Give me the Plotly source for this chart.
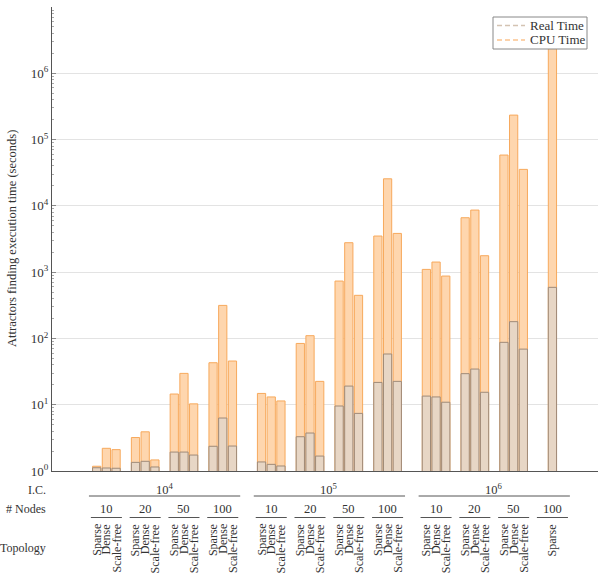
import plotly.graph_objects as go

# ---- data ----
ic_labels = ["10<sup>4</sup>", "10<sup>5</sup>", "10<sup>6</sup>"]
node_labels = ["10", "20", "50", "100"]
topologies = ["Sparse", "Dense", "Scale-free"]
y_tick_vals = [1, 10, 100, 1e3, 1e4, 1e5, 1e6, 1e7]
y_tick_text = ["10<sup>0</sup>", "10<sup>1</sup>", "10<sup>2</sup>", "10<sup>3</sup>",
               "10<sup>4</sup>", "10<sup>5</sup>", "10<sup>6</sup>", "10<sup>7</sup>"]
series_names = ["Real Time", "CPU Time"]

# groups: (ic index, node index, list of topologies)
groups = [
    (0, 0, ["Sparse", "Dense", "Scale-free"]),
    (0, 1, ["Sparse", "Dense", "Scale-free"]),
    (0, 2, ["Sparse", "Dense", "Scale-free"]),
    (0, 3, ["Sparse", "Dense", "Scale-free"]),
    (1, 0, ["Sparse", "Dense", "Scale-free"]),
    (1, 1, ["Sparse", "Dense", "Scale-free"]),
    (1, 2, ["Sparse", "Dense", "Scale-free"]),
    (1, 3, ["Sparse", "Dense", "Scale-free"]),
    (2, 0, ["Sparse", "Dense", "Scale-free"]),
    (2, 1, ["Sparse", "Dense", "Scale-free"]),
    (2, 2, ["Sparse", "Dense", "Scale-free"]),
    (2, 3, ["Sparse"]),
]

cpu_time = [
    1.18, 2.2, 2.1,
    3.2, 3.9, 1.47,
    14.5, 29.7, 10.3,
    43, 315, 45.6,
    14.8, 13.1, 11.4,
    84, 110, 22.5,
    734, 2780, 447,
    3505, 25600, 3840,
    1100, 1420, 873,
    6620, 8640, 1770,
    58400, 234000, 35500,
    3.5e6,
]
real_time = [
    1.12, 1.11, 1.1,
    1.35, 1.4, 1.15,
    1.93, 1.93, 1.74,
    2.36, 6.3, 2.38,
    1.37, 1.26, 1.19,
    3.29, 3.74, 1.68,
    9.56, 19.1, 7.4,
    21.7, 58.2, 22.5,
    13.5, 13.1, 10.9,
    29.4, 34.5, 15.4,
    87.3, 179, 69,
    590,
]

# ---- positions (slot units) ----
xs, topo_text, group_info = [], [], []
for ic_i, nd_i, tops in groups:
    start = ic_i * 17 + nd_i * 4
    n = len(tops)
    for k, t in enumerate(tops):
        xs.append(start + (3 - n) / 2 + k)
        topo_text.append(t)
    group_info.append((ic_i, nd_i, start))

FONT = "Liberation Serif, Times New Roman, serif"
TXT = "#333333"
CPU_FILL, CPU_LINE = "#FED6AE", "#F7A95C"
REAL_FILL, REAL_LINE = "#E7D6C5", "#9F8A78"

fig = go.Figure()
fig.add_trace(go.Bar(x=xs, y=cpu_time, width=0.85, name="CPU Time",
                     marker=dict(color=CPU_FILL, line=dict(color=CPU_LINE, width=1)),
                     showlegend=False))
fig.add_trace(go.Bar(x=xs, y=real_time, width=0.85, name="Real Time",
                     marker=dict(color=REAL_FILL, line=dict(color=REAL_LINE, width=1)),
                     showlegend=False))

annotations = []
shapes = []

def py(p):
    return (471 - p) / 464.0

def px(p):
    return (p - 52) / 546.0

# y-axis title
annotations.append(dict(x=px(12), y=py(239), xref="paper", yref="paper",
                        text="Attractors finding execution time (seconds)",
                        showarrow=False, textangle=-90, xanchor="center", yanchor="middle",
                        font=dict(family=FONT, size=12.5, color=TXT)))

# row labels
for txt, ypix in [("I.C.", 490), ("# Nodes", 509), ("Topology", 548)]:
    annotations.append(dict(x=px(47.5), y=py(ypix), xref="paper", yref="paper", text=txt,
                            showarrow=False, xanchor="right", yanchor="middle",
                            font=dict(family=FONT, size=12, color=TXT)))

# I.C. labels and lines
for ic_i, lab in enumerate(ic_labels):
    s = ic_i * 17
    annotations.append(dict(x=s + 7, y=py(489), xref="x", yref="paper", text=lab,
                            showarrow=False, xanchor="center", yanchor="middle",
                            font=dict(family=FONT, size=12.5, color=TXT)))
    shapes.append(dict(type="line", xref="x", yref="paper", x0=s - 0.8, x1=s + 14.8,
                       y0=py(496), y1=py(496), line=dict(color="#555555", width=1)))

# node labels and lines
for ic_i, nd_i, start in group_info:
    annotations.append(dict(x=start + 1, y=py(509), xref="x", yref="paper",
                            text=node_labels[nd_i], showarrow=False,
                            xanchor="center", yanchor="middle",
                            font=dict(family=FONT, size=12.5, color=TXT)))
    shapes.append(dict(type="line", xref="x", yref="paper", x0=start - 0.6, x1=start + 2.6,
                       y0=py(517.5), y1=py(517.5), line=dict(color="#555555", width=1)))

# topology labels
for x, t in zip(xs, topo_text):
    annotations.append(dict(x=x, y=py(522), xref="x", yref="paper", text=t,
                            showarrow=False, textangle=-90, xanchor="center", yanchor="top",
                            font=dict(family=FONT, size=12, color=TXT)))

# legend (drawn box)
shapes.append(dict(type="rect", xref="paper", yref="paper", x0=px(493), x1=px(587),
                   y0=py(49), y1=py(17), fillcolor="white",
                   line=dict(color="#888888", width=1), layer="above"))
for name, col, ypix in [(series_names[0], "#D4C3B2", 25.5), (series_names[1], "#FBC48E", 40)]:
    shapes.append(dict(type="line", xref="paper", yref="paper", x0=px(497), x1=px(525),
                       y0=py(ypix), y1=py(ypix), layer="above",
                       line=dict(color=col, width=1.3, dash="5px,3px")))
    annotations.append(dict(x=px(527.5), y=py(ypix), xref="paper", yref="paper", text=name,
                            showarrow=False, xanchor="left", yanchor="middle",
                            font=dict(family=FONT, size=13, color=TXT)))

fig.update_layout(
    width=600, height=575,
    margin=dict(l=52, r=2, t=7, b=104),
    paper_bgcolor="white", plot_bgcolor="white",
    barmode="overlay", showlegend=False,
    font=dict(family=FONT, size=12, color=TXT),
    annotations=annotations, shapes=shapes,
)
fig.update_xaxes(range=[-4.61, 51.7], showticklabels=False, ticks="", showgrid=False,
                 zeroline=False, showline=True, linecolor="#555555", linewidth=1,
                 automargin=False)
fig.update_yaxes(type="log", range=[0, 7], tickmode="array",
                 tickvals=y_tick_vals, ticktext=y_tick_text,
                 showgrid=True, gridcolor="#E3E3E3", gridwidth=1,
                 showline=True, linecolor="#555555", linewidth=1,
                 ticks="inside", ticklen=4, tickcolor="#888888",
                 minor=dict(ticks="inside", ticklen=2, tickcolor="#AAAAAA",
                            tickvals=[m * 10 ** e for e in range(7) for m in range(2, 10)],
                            showgrid=False),
                 tickfont=dict(family=FONT, size=13, color=TXT),
                 automargin=False, zeroline=False)

fig.write_html("out.html", config={"displayModeBar": False},
               post_script="document.body.style.margin='0';document.body.style.overflow='hidden';")
